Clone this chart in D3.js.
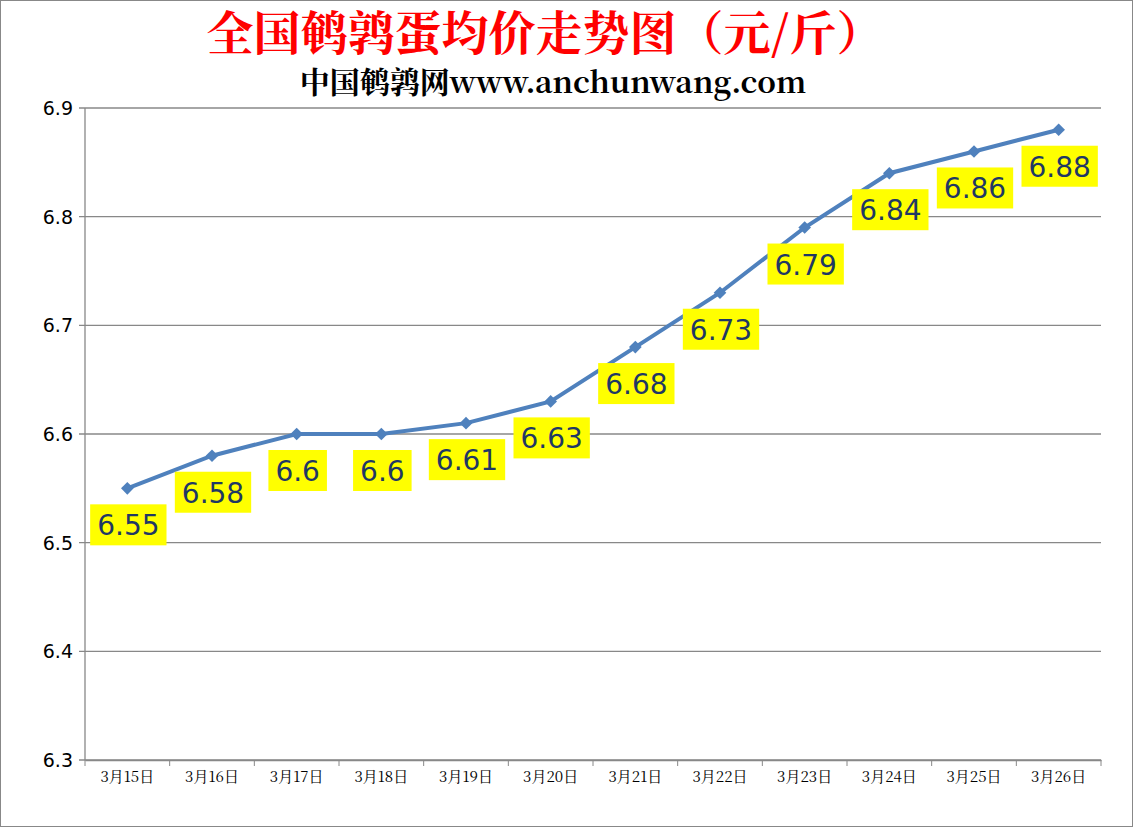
<!DOCTYPE html>
<html><head><meta charset="utf-8">
<script src="https://cdn.jsdelivr.net/npm/d3@7"></script>
<style>body{margin:0;background:#fff}</style></head>
<body><svg id="c" width="1133" height="827"></svg>
<script>
const categories=["3月15日","3月16日","3月17日","3月18日","3月19日","3月20日","3月21日","3月22日","3月23日","3月24日","3月25日","3月26日"];
const values=[6.55,6.58,6.6,6.6,6.61,6.63,6.68,6.73,6.79,6.84,6.86,6.88];
const labels=["6.55","6.58","6.6","6.6","6.61","6.63","6.68","6.73","6.79","6.84","6.86","6.88"];
const yTicks=[6.3,6.4,6.5,6.6,6.7,6.8,6.9];
const svg=d3.select("#c");
svg.append("rect").attr("x",0.5).attr("y",0.5).attr("width",1132).attr("height",826).attr("fill","#fff").attr("stroke","#888");
const L=85,R=1101,T=108,B=760;
const x=d3.scaleBand().domain(categories).range([L,R]);
const y=d3.scaleLinear().domain([6.3,6.9]).range([B,T]);
svg.append("g").selectAll("line").data(yTicks).join("line").attr("x1",L-6).attr("x2",R).attr("y1",d=>y(d)).attr("y2",d=>y(d)).attr("stroke","#888").attr("stroke-width",1.3);
svg.append("line").attr("x1",L).attr("x2",L).attr("y1",T).attr("y2",B).attr("stroke","#888").attr("stroke-width",1.3);
svg.append("g").selectAll("text").data(yTicks).join("text").attr("x",L-12).attr("y",d=>y(d)+7).attr("text-anchor","end").attr("font-family","DejaVu Sans").attr("font-size",19).text(d=>d.toFixed(1));
const xa=svg.append("g").attr("transform",`translate(0,${B})`).call(d3.axisBottom(x).tickSize(0).tickPadding(11));
xa.select(".domain").attr("stroke","#888").attr("stroke-width",1.3);
xa.selectAll("text").attr("font-family","Noto Serif CJK SC, Noto Sans CJK SC").attr("font-size",15).attr("fill","#000");
svg.append("g").selectAll("line").data(categories).join("line").attr("x1",d=>x(d)+x.bandwidth()).attr("x2",d=>x(d)+x.bandwidth()).attr("y1",B).attr("y2",B+6).attr("stroke","#888");
svg.append("line").attr("x1",L).attr("x2",L).attr("y1",B).attr("y2",B+6).attr("stroke","#888");
const cx=(d,i)=>x(categories[i])+x.bandwidth()/2;
svg.append("path").datum(values).attr("d",d3.line().x(cx).y(d=>y(d))).attr("fill","none").attr("stroke","#4f81bd").attr("stroke-width",4);
svg.append("g").selectAll("path").data(values).join("path").attr("d",d3.symbol(d3.symbolSquare,80)).attr("transform",(d,i)=>`translate(${cx(d,i)},${y(d)}) rotate(45)`).attr("fill","#4f81bd");
const lg=svg.append("g").selectAll("g").data(values).join("g").attr("transform",(d,i)=>`translate(${cx(d,i)+1},${y(d)+36})`);
lg.each(function(d,i){
  const g=d3.select(this);
  const t=g.append("text").attr("text-anchor","middle").attr("y",11).attr("font-family","DejaVu Sans").attr("font-size",28).attr("fill","#1f3864").text(labels[i]);
  const w=t.node().getComputedTextLength()+14;
  g.insert("rect","text").attr("x",-w/2).attr("y",-20).attr("width",w).attr("height",41).attr("fill","#ffff00");
});
svg.append("text").attr("x",545).attr("y",50).attr("text-anchor","middle").attr("font-family","Noto Serif CJK SC, Noto Sans CJK SC").attr("font-weight","bold").attr("font-size",47).attr("fill","#ff0000").text("全国鹌鹑蛋均价走势图（元/斤）");
svg.append("text").attr("x",553).attr("y",93).attr("text-anchor","middle").attr("font-family","Noto Serif CJK SC, Liberation Serif, Noto Sans CJK SC").attr("font-weight","bold").attr("font-size",30).attr("fill","#000").text("中国鹌鹑网www.anchunwang.com");
</script></body></html>
